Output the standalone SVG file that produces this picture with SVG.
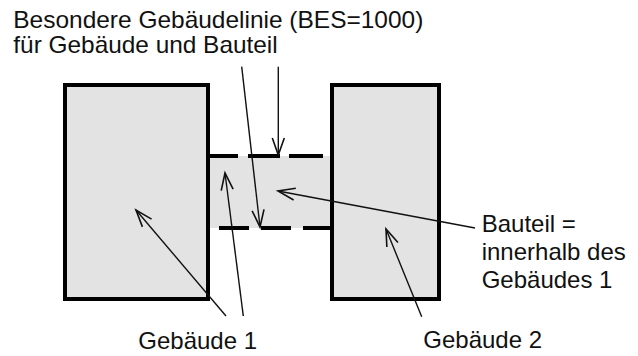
<svg xmlns="http://www.w3.org/2000/svg" width="638" height="356" viewBox="0 0 638 356">
<style>
.txt{font-family:"Liberation Sans",Arial,sans-serif;font-size:24px;fill:#111}
.bld{fill:#e3e3e3;stroke:#000;stroke-width:4}
.dash{stroke:#000;stroke-width:4;fill:none}
.arr{stroke:#111;stroke-width:1.4;fill:none;marker-end:url(#ah)}
</style>
<defs>
<marker id="ah" markerUnits="userSpaceOnUse" markerWidth="24" markerHeight="16" viewBox="-18 -8 20 16" refX="0" refY="0" orient="auto">
<path d="M-17,-6 L0,0 L-17,6" fill="none" stroke="#111" stroke-width="1.6"/>
</marker>
</defs>
<rect width="638" height="356" fill="#fff"/>
<g id="bauteil">
<rect x="208" y="156" width="124" height="72" fill="#e3e3e3"/>
<path class="dash" d="M208,156H238M248,156H280M289,156H323M219,228H249M261,228H291M303,228H332"/>
</g>
<g id="gebaeude1">
<rect class="bld" x="65" y="85" width="143" height="214"/>
</g>
<g id="gebaeude2">
<rect class="bld" x="332" y="85" width="107" height="214"/>
</g>
<g id="connectors">
<line class="arr" x1="278.3" y1="66.7" x2="278.3" y2="155"/>
<line class="arr" x1="241.7" y1="66.7" x2="260" y2="227"/>
<line class="arr" x1="243.3" y1="316" x2="225" y2="173"/>
<line class="arr" x1="226" y1="316" x2="136" y2="210"/>
<line class="arr" x1="475" y1="228" x2="278" y2="191"/>
<line class="arr" x1="421.7" y1="316.7" x2="386" y2="229"/>
</g>
<g id="labels">
<text class="txt" x="13.3" y="28" textLength="410" lengthAdjust="spacingAndGlyphs">Besondere Gebäudelinie (BES=1000)</text>
<text class="txt" x="13.3" y="53" textLength="264.4" lengthAdjust="spacingAndGlyphs">für Gebäude und Bauteil</text>
<text class="txt" x="481.7" y="231.7">Bauteil =</text>
<text class="txt" x="481.7" y="260">innerhalb des</text>
<text class="txt" x="481.7" y="288.3">Gebäudes 1</text>
<text class="txt" x="138.3" y="349">Gebäude 1</text>
<text class="txt" x="423.3" y="348">Gebäude 2</text>
</g>
</svg>
